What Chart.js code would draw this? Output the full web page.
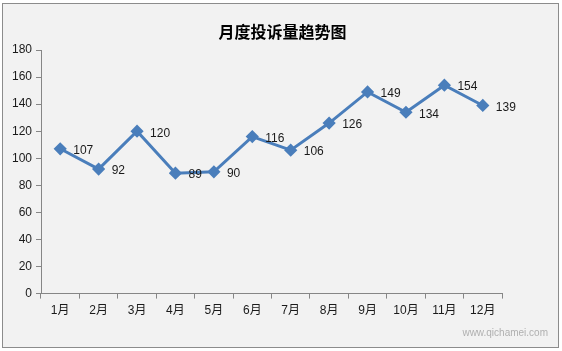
<!DOCTYPE html>
<html>
<head>
<meta charset="utf-8">
<script src="https://cdn.jsdelivr.net/npm/chart.js@4"></script>
<style>
  html, body { margin: 0; padding: 0; background: #ffffff; }
  #box { position: absolute; left: 2px; top: 3px; width: 555px; height: 343px; border: 1px solid #8c8c8c; background: #f2f2f2; }
  #myChart { display: block; }
</style>
</head>
<body>
<div id="box"><canvas id="myChart" width="555" height="343"></canvas></div>
<script>
// data
const months = ['1月', '2月', '3月', '4月', '5月', '6月', '7月', '8月', '9月', '10月', '11月', '12月'];
const complaints = [107, 92, 120, 89, 90, 116, 106, 126, 149, 134, 154, 139];
const titleText = '月度投诉量趋势图';
const yMax = 180;
const yStep = 20;

const fontFam = '"Liberation Sans", "Noto Sans CJK SC", sans-serif';

// title, value labels and watermark
const extras = {
  id: 'extras',
  afterDatasetsDraw(chart) {
    const ctx = chart.ctx;
    const meta = chart.getDatasetMeta(0);
    ctx.save();
    ctx.fillStyle = '#1a1a1a';
    ctx.font = '12px ' + fontFam;
    ctx.textAlign = 'left';
    ctx.textBaseline = 'middle';
    meta.data.forEach(function(pt, i) {
      ctx.fillText(String(complaints[i]), pt.x + 13, pt.y + 2);
    });
    // title centred on the whole box
    ctx.fillStyle = '#000000';
    ctx.font = 'bold 16px "Noto Sans CJK SC", sans-serif';
    ctx.textAlign = 'center';
    ctx.fillText(titleText, chart.width / 2 + 2, 28);
    // watermark
    ctx.fillStyle = 'rgba(120,120,120,0.55)';
    ctx.font = '10px ' + fontFam;
    ctx.textAlign = 'right';
    ctx.fillText('www.qichamei.com', chart.width - 10, chart.height - 14);
    ctx.restore();
  }
};

const ctx = document.getElementById('myChart').getContext('2d');
const myChart = new Chart(ctx, {
  type: 'line',
  data: {
    labels: months,
    datasets: [{
      data: complaints,
      borderColor: '#4a7ebb',
      backgroundColor: '#4a7ebb',
      borderWidth: 3,
      pointStyle: 'rectRot',
      pointRadius: 4.5,
      pointHoverRadius: 4.5,
      tension: 0,
      fill: false
    }]
  },
  options: {
    responsive: false,
    animation: false,
    events: [],
    layout: { padding: { left: 0, right: 56, top: 46, bottom: 24 } },
    plugins: {
      legend: { display: false },
      tooltip: { enabled: false },
      title: { display: false }
    },
    scales: {
      x: {
        offset: true,
        grid: { display: true, drawOnChartArea: false, offset: true, tickLength: 5, color: '#868686' },
        border: { display: true, color: '#868686', width: 1 },
        ticks: { color: '#1a1a1a', font: { family: fontFam, size: 12 }, padding: 5, maxRotation: 0, autoSkip: false }
      },
      y: {
        min: 0,
        max: yMax,
        afterFit(scale) { scale.width = 38; },
        grid: { display: true, drawOnChartArea: false, tickLength: 5, color: '#868686' },
        border: { display: true, color: '#868686', width: 1 },
        ticks: { stepSize: yStep, color: '#1a1a1a', font: { family: fontFam, size: 12 }, padding: 4 }
      }
    }
  },
  plugins: [extras]
});
</script>
</body>
</html>
